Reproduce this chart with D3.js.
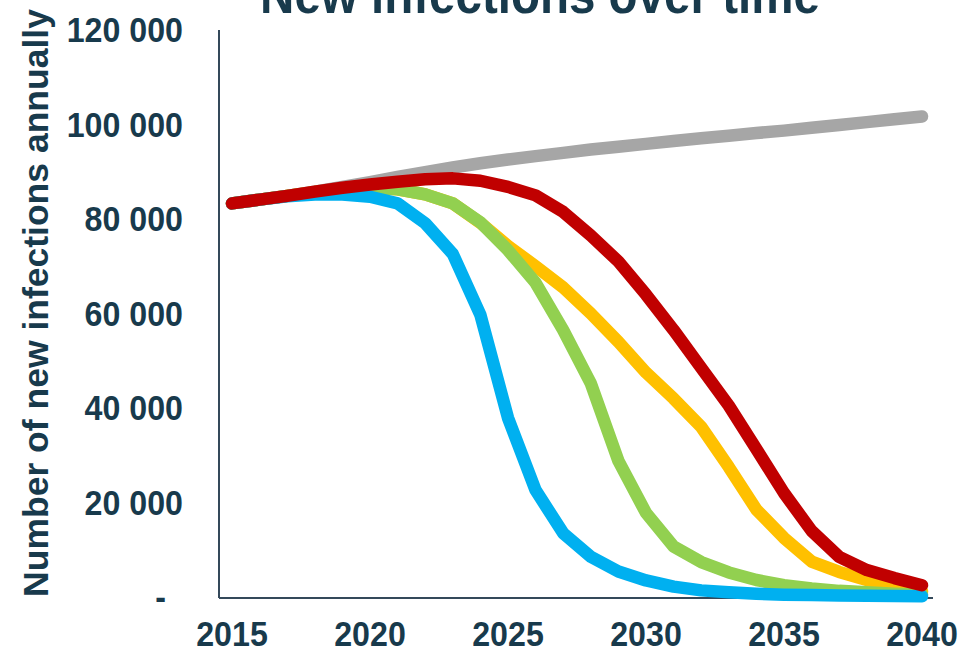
<!DOCTYPE html>
<html>
<head>
<meta charset="utf-8">
<script src="https://cdn.jsdelivr.net/npm/d3@7"></script>
<style>
  body { margin: 0; background: #fff; }
  text { font-family: "Liberation Sans", Arial, sans-serif; font-weight: bold; fill: #183a4c; }
</style>
</head>
<body>
<div id="chart"></div>
<script>
// chart data
const years = [2015, 2016, 2017, 2018, 2019, 2020, 2021, 2022, 2023, 2024, 2025, 2026, 2027,
  2028, 2029, 2030, 2031, 2032, 2033, 2034, 2035, 2036, 2037, 2038, 2039, 2040];
const grayVals = [83300, 84100, 84900, 85800, 86800, 87800, 88900, 89900, 90900, 91800, 92600, 93300, 94000,
  94700, 95300, 95900, 96500, 97100, 97600, 98200, 98700, 99300, 99900, 100500, 101100, 101700];
const yellowVals = [83300, 84100, 84900, 85700, 86300, 86600, 86300, 85200, 83300, 79200, 74300, 70000, 65500,
  60000, 54000, 47500, 42000, 36000, 27500, 18500, 12500, 7500, 5300, 3600, 2300, 1200];
const greenVals = [83300, 84100, 84900, 85700, 86300, 86600, 86300, 85200, 83300, 79300, 73400, 66500, 56500,
  45200, 28800, 17800, 10700, 7400, 5200, 3600, 2500, 1800, 1300, 1000, 700, 500];
const blueVals = [83300, 84100, 84800, 85200, 85200, 84700, 83300, 79100, 72600, 59700, 37900, 22600, 13500,
  8500, 5400, 3500, 2200, 1400, 1000, 700, 500, 400, 300, 250, 200, 150];
const redVals = [83300, 84100, 84900, 85800, 86600, 87300, 87900, 88400, 88600, 88100, 86800, 85000, 81500,
  76500, 71000, 64000, 56500, 48500, 40500, 31300, 22000, 14000, 8500, 5700, 4000, 2500];
const yTicks = [0, 20000, 40000, 60000, 80000, 100000, 120000];
const xTicks = [2015, 2020, 2025, 2030, 2035, 2040];

const series = [
  { name: "gray", values: grayVals, color: "#a6a6a6" },
  { name: "yellow", values: yellowVals, color: "#ffc000" },
  { name: "green", values: greenVals, color: "#92d050" },
  { name: "blue", values: blueVals, color: "#00b0f0" },
  { name: "red", values: redVals, color: "#c00000" }
];

let width = 972, height = 651;
let squeeze = 0.92;

let svg = d3.select("#chart").append("svg")
  .attr("width", width)
  .attr("height", height);

let x = d3.scaleLinear().domain([2015, 2040]).range([232, 922]);
let y = d3.scaleLinear().domain([0, 120000]).range([597, 30]);
let fmt = d3.formatLocale({ decimal: ".", thousands: " ", grouping: [3], currency: ["", ""] }).format(",d");

// axis lines
svg.append("line")
  .attr("x1", 219).attr("x2", 219)
  .attr("y1", y(120000)).attr("y2", y(0) + 1)
  .attr("stroke", "#34495a").attr("stroke-width", 2);
svg.append("line")
  .attr("x1", 219).attr("x2", 933)
  .attr("y1", y(0) + 1).attr("y2", y(0) + 1)
  .attr("stroke", "#34495a").attr("stroke-width", 2);

// y tick labels
svg.selectAll("text.ytick")
  .data(yTicks)
  .join("text")
  .attr("class", "ytick")
  .attr("text-anchor", "end")
  .attr("font-size", 35)
  .attr("transform", d => `translate(${d === 0 ? 166 : 183},${y(d) + 12}) scale(${squeeze},1)`)
  .text(d => d === 0 ? "-" : fmt(d));

// x tick labels
svg.selectAll("text.xtick")
  .data(xTicks)
  .join("text")
  .attr("class", "xtick")
  .attr("text-anchor", "middle")
  .attr("font-size", 35)
  .attr("transform", d => `translate(${x(d)},646) scale(${squeeze},1)`)
  .text(d => d);

// title, cut off at the top
svg.append("text")
  .attr("text-anchor", "middle")
  .attr("font-size", 54)
  .attr("transform", `translate(540,13) scale(0.88,1)`)
  .text("New infections over time");

// y axis title
svg.append("text")
  .attr("text-anchor", "middle")
  .attr("font-size", 35.5)
  .attr("transform", "translate(48,303) rotate(-90)")
  .text("Number of new infections annually");

// lines
let line = d3.line()
  .x((d, i) => x(years[i]))
  .y(d => y(d));

svg.selectAll("path.series")
  .data(series)
  .join("path")
  .attr("class", "series")
  .attr("d", d => line(d.values))
  .attr("fill", "none")
  .attr("stroke", d => d.color)
  .attr("stroke-width", 12.5)
  .attr("stroke-linejoin", "round")
  .attr("stroke-linecap", "round");
</script>
</body>
</html>
